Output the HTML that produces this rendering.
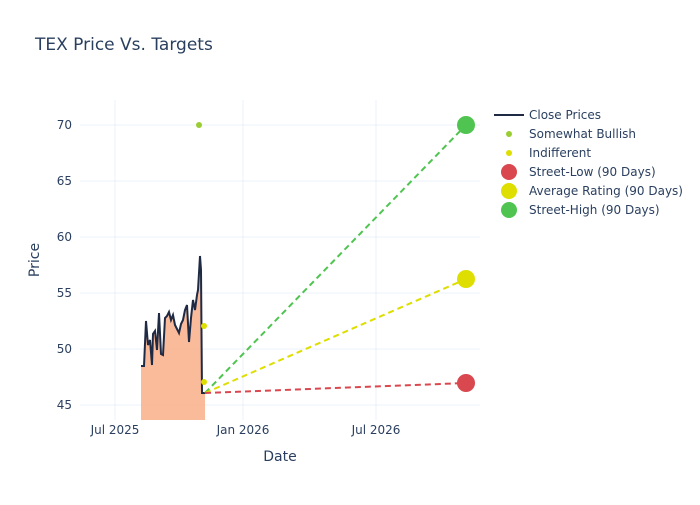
<!DOCTYPE html>
<html><head><style>
body{margin:0;background:#fff;}
svg text{font-family:"DejaVu Sans","Liberation Sans",sans-serif;fill:#2a3f5f;}
</style></head><body>
<svg width="700" height="500" xmlns="http://www.w3.org/2000/svg">
<rect width="700" height="500" fill="#fff"/>
<text x="35" y="50" font-size="17">TEX Price Vs. Targets</text>
<g stroke="#ebf0f8" stroke-width="1">
<line x1="80" x2="480" y1="125" y2="125"/><line x1="80" x2="480" y1="181" y2="181"/>
<line x1="80" x2="480" y1="237" y2="237"/><line x1="80" x2="480" y1="293" y2="293"/>
<line x1="80" x2="480" y1="349" y2="349"/><line x1="80" x2="480" y1="405" y2="405"/>
<line x1="115" x2="115" y1="100" y2="420"/><line x1="243" x2="243" y1="100" y2="420"/>
<line x1="376" x2="376" y1="100" y2="420"/>
</g>
<g font-size="12" text-anchor="end">
<text x="72" y="129">70</text><text x="72" y="185">65</text><text x="72" y="241">60</text>
<text x="72" y="297">55</text><text x="72" y="353">50</text><text x="72" y="409">45</text>
</g>
<g font-size="12" text-anchor="middle">
<text x="115" y="434">Jul 2025</text><text x="243" y="434">Jan 2026</text><text x="376" y="434">Jul 2026</text>
</g>
<text x="280" y="461" font-size="14" text-anchor="middle">Date</text>
<text x="39" y="260" font-size="14" text-anchor="middle" transform="rotate(-90 39 260)">Price</text>
<polygon fill="#f9b48f" fill-opacity="0.9" points="141,420 141,366 144,366 146,321 148,345 150,340 152,365 153,334 155,331 157,350 159,313 161,354 163,355 165,318 167,316 169,312 171,320 173,315 175,325 177,329 179,333 181,324 183,320 185,310 187,305 189,342 191,318 193,300 195,310 197,295 198,290 200,256 201,270 202,393 205,393 205,420"/>
<polyline fill="none" stroke="#1f2a44" stroke-width="2" points="141,366 144,366 146,321 148,345 150,340 152,365 153,334 155,331 157,350 159,313 161,354 163,355 165,318 167,316 169,312 171,320 173,315 175,325 177,329 179,333 181,324 183,320 185,310 187,305 189,342 191,318 193,300 195,310 197,295 198,290 200,256 201,270 202,393 205,393"/>
<g stroke-width="2" stroke-dasharray="6,4">
<line x1="205" y1="393" x2="466" y2="125" stroke="#50c450"/>
<line x1="205" y1="393" x2="466" y2="279" stroke="#dede00"/>
<line x1="205" y1="393" x2="466" y2="383" stroke="#d9484f"/>
</g>
<circle cx="199" cy="125" r="3" fill="#9acd32"/>
<circle cx="204" cy="326" r="3" fill="#dede00"/>
<circle cx="204" cy="382" r="3" fill="#dede00"/>
<circle cx="466" cy="125" r="9" fill="#50c450"/>
<circle cx="466" cy="279" r="9" fill="#dede00"/>
<circle cx="466" cy="383" r="9" fill="#d9484f"/>
<g font-size="12">
<line x1="494" x2="524" y1="115" y2="115" stroke="#1f2a44" stroke-width="2"/><text x="529" y="119">Close Prices</text>
<circle cx="509" cy="134" r="3" fill="#9acd32"/><text x="529" y="138">Somewhat Bullish</text>
<circle cx="509" cy="153" r="3" fill="#dede00"/><text x="529" y="157">Indifferent</text>
<circle cx="509" cy="172" r="8" fill="#d9484f"/><text x="529" y="176">Street-Low (90 Days)</text>
<circle cx="509" cy="191" r="8" fill="#dede00"/><text x="529" y="195">Average Rating (90 Days)</text>
<circle cx="509" cy="210" r="8" fill="#50c450"/><text x="529" y="214">Street-High (90 Days)</text>
</g>
</svg>
</body></html>
